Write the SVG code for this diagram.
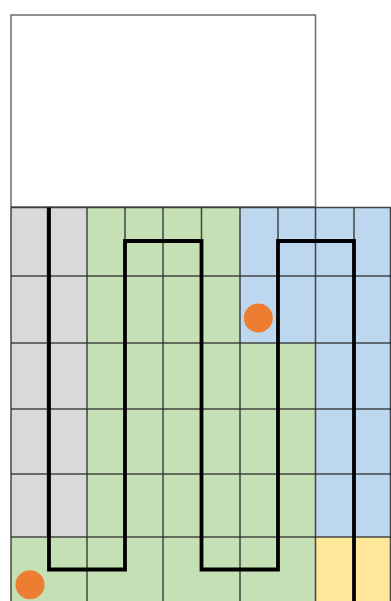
<svg xmlns="http://www.w3.org/2000/svg" width="391" height="601" viewBox="0 0 391 601">
<style>
.grid{stroke:#2a2a2a;stroke-width:1.5;fill:none;stroke-opacity:0.85}
.route{stroke:#000;stroke-width:3.8;fill:none;stroke-linejoin:miter}
.dot{fill:#ED7D31}
</style>
<rect width="391" height="601" fill="#fff"/>
<g id="top-box"><rect x="11" y="15" width="304.5" height="192" fill="#fff" stroke="#6a6a6a" stroke-width="1.5"/></g>
<g id="zones">
<rect x="11" y="207.5" width="76" height="329.5" fill="#D9D9D9"/>
<rect x="87" y="207.5" width="153" height="393.5" fill="#C5E0B4"/>
<rect x="240" y="343" width="76" height="258" fill="#C5E0B4"/>
<rect x="11" y="537" width="76" height="64" fill="#C5E0B4"/>
<rect x="240" y="207.5" width="151" height="135.5" fill="#BDD7EE"/>
<rect x="316" y="343" width="75" height="194" fill="#BDD7EE"/>
<rect x="316" y="537" width="75" height="64" fill="#FFE699"/>
</g>
<g id="grid" class="grid">
<path d="M11,207.5H391M11,276H391M11,343H391M11,409H391M11,474H391M11,537H391"/>
<path d="M11,207.5V601M87,207.5V601M163,207.5V601M240,207.5V601M315.5,207.5V601M390.5,207.5V601"/>
<path d="M47.5,207.5V537M125,207.5V537M201.5,207.5V537M278,207.5V537M354,207.5V537"/>
</g>
<g id="connectors">
<path class="route" d="M49,207.5V569.5H125V241H201.5V569.5H278V241H354V601"/>
</g>
<g id="dot-1"><circle class="dot" cx="258.3" cy="318" r="14.5"/></g>
<g id="dot-2"><circle class="dot" cx="30" cy="584.7" r="14.5"/></g>
</svg>
